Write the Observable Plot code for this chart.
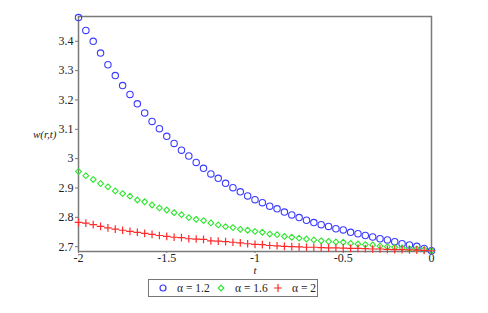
<!DOCTYPE html>
<html>
<head>
<meta charset="utf-8">
<script src="https://cdn.jsdelivr.net/npm/d3@7"></script>
<script src="https://cdn.jsdelivr.net/npm/@observablehq/plot@0.6"></script>
<style>
  body { margin: 0; background: #fff; }
  #wrap { position: relative; width: 488px; height: 313px; font-family: "Times New Roman", "Liberation Serif", "DejaVu Serif", serif; }
  #chart svg, #chart svg text { font-family: "Times New Roman", "Liberation Serif", "DejaVu Serif", serif !important; }
  #legend { position: absolute; left: 148px; top: 279px; width: 168px; height: 16px; border: 1.5px solid #777; display: flex; align-items: center; font-size: 11.5px; color: #222; white-space: nowrap; background: #fff; }
  #legend .item { display: flex; align-items: center; }
  #legend svg { display: block; }
</style>
</head>
<body>
<div id="wrap">
  <div id="chart"></div>
  <div id="legend"></div>
</div>
<script>
// t values: 49 points from -2 to 0
const nPoints = 49;
const tStart = -2, tEnd = 0;

const alphaLabels = ["α = 1.2", "α = 1.6", "α = 2"];
const seriesColors = ["#3b3bff", "#2ee62e", "#ff2a2a"];
const seriesSymbols = ["circle", "diamond2", "plus"];

const w12 = [3.481, 3.437, 3.400, 3.360, 3.320, 3.283, 3.249, 3.219, 3.187, 3.156,
  3.127, 3.102, 3.076, 3.052, 3.029, 3.009, 2.987, 2.967, 2.948, 2.933,
  2.916, 2.901, 2.887, 2.873, 2.860, 2.850, 2.838, 2.829, 2.818, 2.808,
  2.799, 2.790, 2.782, 2.775, 2.769, 2.761, 2.757, 2.749, 2.744, 2.738,
  2.733, 2.727, 2.723, 2.717, 2.710, 2.706, 2.701, 2.694, 2.686];

const w16 = [2.956, 2.942, 2.929, 2.915, 2.904, 2.890, 2.881, 2.872, 2.859, 2.853,
  2.842, 2.832, 2.825, 2.816, 2.809, 2.799, 2.793, 2.789, 2.781, 2.774,
  2.768, 2.765, 2.759, 2.756, 2.752, 2.749, 2.743, 2.741, 2.735, 2.732,
  2.729, 2.726, 2.723, 2.720, 2.718, 2.716, 2.715, 2.711, 2.709, 2.707,
  2.706, 2.702, 2.700, 2.698, 2.696, 2.693, 2.692, 2.690, 2.686];

const w20 = [2.783, 2.780, 2.775, 2.769, 2.764, 2.760, 2.756, 2.752, 2.749, 2.745,
  2.742, 2.738, 2.735, 2.732, 2.731, 2.727, 2.726, 2.725, 2.720, 2.719,
  2.717, 2.715, 2.713, 2.710, 2.708, 2.707, 2.704, 2.703, 2.701, 2.700,
  2.699, 2.698, 2.698, 2.697, 2.696, 2.696, 2.695, 2.694, 2.694, 2.693,
  2.692, 2.692, 2.691, 2.690, 2.690, 2.689, 2.688, 2.687, 2.686];

const xTicks = [-2, -1.5, -1, -0.5, 0];
const yTicks = [2.7, 2.8, 2.9, 3.0, 3.1, 3.2, 3.3, 3.4];
const xTickLabels = ["-2", "-1.5", "-1", "-0.5", "0"];
const yTickLabels = ["2.7", "2.8", "2.9", "3", "3.1", "3.2", "3.3", "3.4"];
const xLabel = "t";
const yLabel = "w(r,t)";

const tVals = Array.from({length: nPoints}, (_, i) => tStart + (tEnd - tStart) * i / (nPoints - 1));
const allSeries = [w12, w16, w20];
const data = allSeries.flatMap((arr, s) => arr.map((v, i) => ({t: tVals[i], w: v, s})));

const serif = "'Times New Roman', 'Liberation Serif', 'DejaVu Serif', serif";

const chart = Plot.plot({
  width: 488,
  height: 280,
  marginLeft: 78,
  marginRight: 57,
  marginTop: 16,
  marginBottom: 29,
  style: {fontFamily: serif, fontSize: "12px", color: "#222", background: "#fff"},
  x: {domain: [-2, 0]},
  y: {domain: [2.6835, 3.4845]},
  marks: [
    Plot.frame({stroke: "#7a7a7a", strokeWidth: 1.5}),
    Plot.axisX({ticks: xTicks, tickFormat: (d) => xTickLabels[xTicks.indexOf(d)], tickSize: 2, tickPadding: 0, label: null, stroke: "#777", fontSize: 12}),
    Plot.axisY({ticks: yTicks, tickFormat: (d) => yTickLabels[yTicks.findIndex(v => Math.abs(v - d) < 1e-9)], tickSize: 3, tickPadding: 2, label: null, stroke: "#777", fontSize: 12}),
    ...allSeries.map((arr, s) =>
      Plot.dot(data.filter(d => d.s === s), {
        x: "t", y: "w",
        symbol: () => seriesSymbols[s],
        stroke: seriesColors[s],
        fill: "none",
        r: s === 0 ? 3.2 : 2.6,
        strokeWidth: s === 2 ? 1.2 : 1.1
      })
    ),
    Plot.text([yLabel], {frameAnchor: "left", dx: -22, textAnchor: "end", text: d => d, fontStyle: "italic", fontSize: 11, fill: "#222"}),
    Plot.text([xLabel], {frameAnchor: "bottom", dy: 22, text: d => d, fontStyle: "italic", fontSize: 11, fill: "#222"})
  ],
  symbol: {type: "identity"}
});
document.getElementById("chart").appendChild(chart);

// Legend
const legend = document.getElementById("legend");
const itemWidths = [58, 57, 44];
alphaLabels.forEach((lab, s) => {
  const item = document.createElement("div");
  item.className = "item";
  item.style.marginLeft = s === 0 ? "9px" : "0px";
  item.style.width = itemWidths[s] + "px";
  const sym = d3.create("svg").attr("width", 10).attr("height", 10);
  const sy = d3.symbol().type(s === 0 ? d3.symbolCircle : s === 1 ? d3.symbolDiamond2 : d3.symbolPlus).size(s === 2 ? 22 : s === 1 ? 20 : 28);
  sym.append("path").attr("d", sy()).attr("transform", "translate(5,5)")
    .attr("fill", "none").attr("stroke", seriesColors[s]).attr("stroke-width", 1.2);
  item.appendChild(sym.node());
  const txt = document.createElement("span");
  txt.textContent = lab;
  txt.style.marginLeft = "9px";
  item.appendChild(txt);
  legend.appendChild(item);
});
</script>
</body>
</html>
